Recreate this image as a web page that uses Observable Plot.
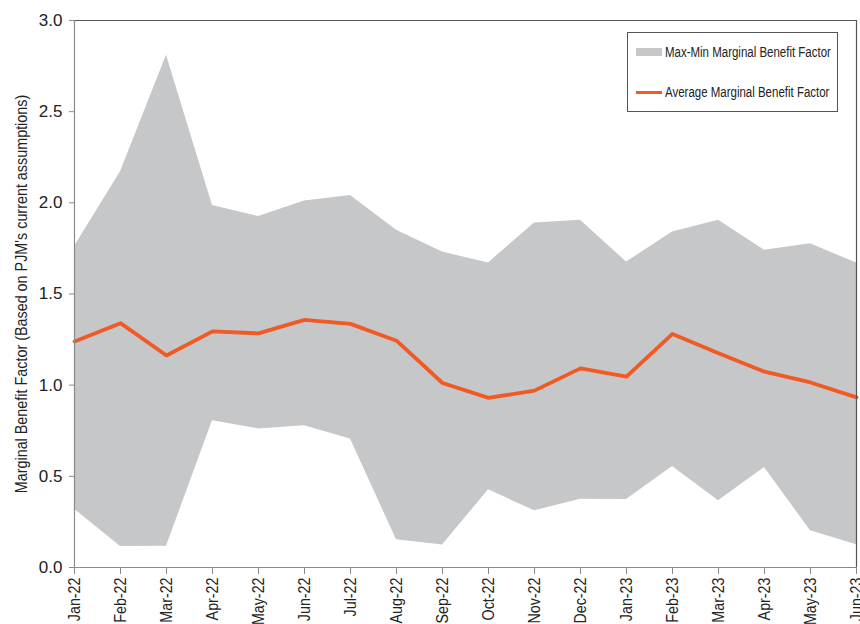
<!DOCTYPE html>
<html>
<head>
<meta charset="utf-8">
<script src="https://cdn.jsdelivr.net/npm/d3@7"></script>
<script src="https://cdn.jsdelivr.net/npm/@observablehq/plot@0.6"></script>
<style>
  html, body { margin: 0; padding: 0; background: #fff; }
  #wrap { position: relative; width: 860px; height: 624px; font-family: "Liberation Sans", Arial, sans-serif; }
  #legend { position: absolute; left: 627px; top: 32px; width: 211px; height: 80px; border: 1px solid #555; background: #fff; box-sizing: border-box; }
  .item { position: absolute; left: 8px; display: flex; align-items: center; font-size: 14px; color: #222; white-space: nowrap; }
  .sw { width: 26px; margin-right: 3px; flex: none; }
  .item span { display: inline-block; transform: scaleX(0.82); transform-origin: left center; }
</style>
</head>
<body>
<div id="wrap"></div>
<script>
const months = ["Jan-22","Feb-22","Mar-22","Apr-22","May-22","Jun-22","Jul-22","Aug-22","Sep-22","Oct-22","Nov-22","Dec-22","Jan-23","Feb-23","Mar-23","Apr-23","May-23","Jun-23"];
const maxVals = [1.76,2.17,2.81,1.985,1.925,2.01,2.04,1.85,1.73,1.67,1.89,1.905,1.675,1.84,1.905,1.74,1.775,1.67];
const minVals = [0.32,0.115,0.117,0.805,0.76,0.778,0.705,0.152,0.123,0.426,0.311,0.375,0.373,0.554,0.366,0.549,0.201,0.125];
const avgVals = [1.24,1.34,1.163,1.295,1.284,1.358,1.336,1.244,1.012,0.93,0.97,1.092,1.047,1.281,1.175,1.074,1.015,0.933];
const yTicks = [0,0.5,1.0,1.5,2.0,2.5,3.0];
const yLabel = "Marginal Benefit Factor (Based on PJM's current assumptions)";
const seriesNames = ["Max-Min Marginal Benefit Factor","Average Marginal Benefit Factor"];
const colors = {band: "#c6c7c9", avg: "#f15a24"};

const data = months.map((m, i) => ({m, max: maxVals[i], min: minVals[i], avg: avgVals[i]}));

const chart = Plot.plot({
  width: 860,
  height: 624,
  marginLeft: 74,
  marginRight: 4,
  marginTop: 20,
  marginBottom: 57,
  style: {fontFamily: "'Liberation Sans', Arial, sans-serif", fontSize: "17px", color: "#222", background: "#fff"},
  x: {type: "point", domain: months, padding: 0},
  y: {domain: [0, 3]},
  marks: [
    Plot.areaY(data, {x: "m", y1: "min", y2: "max", fill: colors.band}),
    Plot.lineY(data, {x: "m", y: "avg", stroke: colors.avg, strokeWidth: 3.8}),
    Plot.ruleY([3], {stroke: "#555", strokeWidth: 1.2}),
    Plot.ruleX([months[months.length - 1]], {stroke: "#555", strokeWidth: 1.2}),
    Plot.ruleY([0], {stroke: "#8a8a8a", strokeWidth: 1.2}),
    Plot.ruleX([months[0]], {stroke: "#8a8a8a", strokeWidth: 1.2}),
    Plot.axisY({ticks: yTicks, tickFormat: d => d.toFixed(1), tickSize: 5, tickPadding: 7, stroke: "#8a8a8a", fontSize: 17, label: null}),
    Plot.axisX({tickRotate: -90, tickSize: 7, tickPadding: 3, stroke: "#8a8a8a", fontSize: 17, label: null}),
    Plot.text([yLabel], {frameAnchor: "left", textAnchor: "middle", rotate: -90, dx: -53, fontSize: 16.5, fill: "#222", text: d => d})
  ]
});
const wrap = document.getElementById("wrap");
wrap.appendChild(chart);

// condense text to mimic a narrow typeface
function condense(selector, k) {
  chart.querySelectorAll(selector).forEach(t => {
    const len = t.getComputedTextLength();
    t.setAttribute("textLength", (len * k).toFixed(1));
    t.setAttribute("lengthAdjust", "spacingAndGlyphs");
  });
}
condense('g[aria-label="x-axis tick label"] text', 0.84);
condense('g[aria-label="text"] text', 0.87);

const legend = document.createElement("div");
legend.id = "legend";
legend.innerHTML = `
  <div class="item" style="top:11px"><div class="sw" style="height:8px;background:${colors.band}"></div><span>${seriesNames[0]}</span></div>
  <div class="item" style="top:51px"><div class="sw" style="height:3px;background:${colors.avg}"></div><span>${seriesNames[1]}</span></div>`;
wrap.appendChild(legend);
</script>
</body>
</html>
